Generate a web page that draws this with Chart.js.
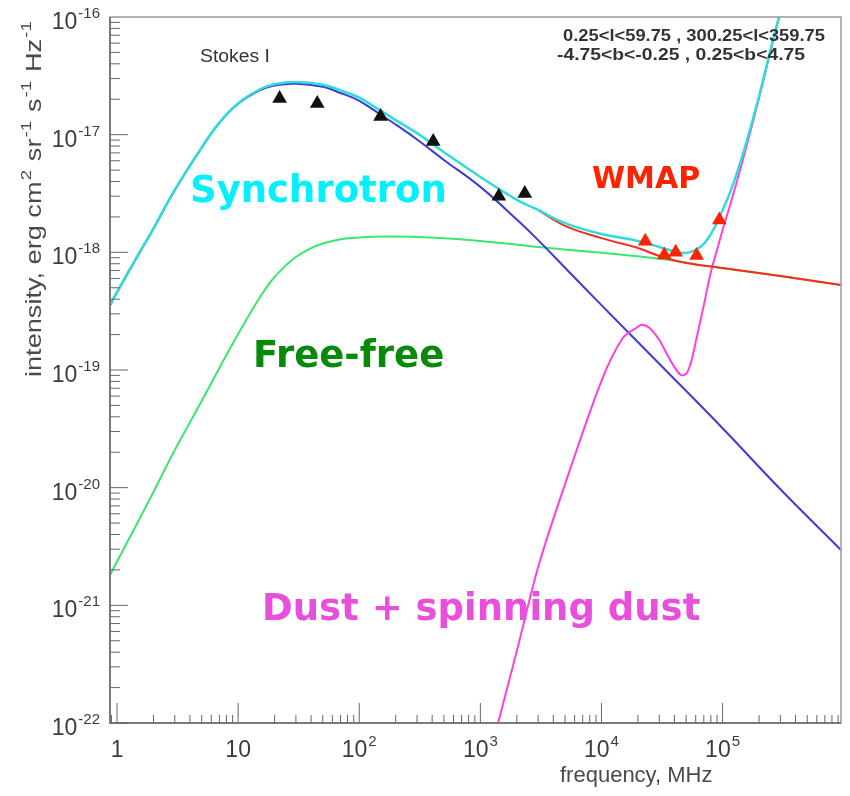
<!DOCTYPE html>
<html>
<head>
<meta charset="utf-8">
<script src="https://cdn.jsdelivr.net/npm/chart.js@4.4.1/dist/chart.umd.min.js"></script>
<style>
  html, body { margin: 0; padding: 0; background: #fff; }
  #wrap { width: 850px; height: 796px; }
</style>
</head>
<body>
<div id="wrap"><canvas id="sed"></canvas></div>
<script>
// ─── Data (frequency in MHz, intensity in erg cm^-2 sr^-1 s^-1 Hz^-1) ───

const radioFreq = [22, 45, 150, 408, 1420, 2326];
const radioI    = [2.03e-17, 1.84e-17, 1.43e-17, 8.75e-18, 2.99e-18, 3.16e-18];

const wmapFreq = [2.3e4, 3.3e4, 4.1e4, 6.1e4, 9.4e4];
const wmapI    = [1.24e-18, 9.5e-19, 1.0e-18, 9.4e-19, 1.88e-18];

// total model (synchrotron + free-free + dust)
const totalFreq = [0.875, 1, 1.5, 2, 3, 5, 7, 10, 15, 20, 30, 50, 70, 100, 150, 200, 300, 500,
  1000, 2000, 3000, 5000, 1e4, 2e4, 3e4, 4e4, 5e4, 6e4, 7e4, 8e4, 9e4, 1e5, 1.2e5, 1.5e5, 2e5, 2.5e5, 3e5];
const totalI = [3.56e-19, 4.6e-19, 9.6e-19, 1.6e-18, 3.4e-18, 7.8e-18, 1.27e-17, 1.85e-17, 2.42e-17,
  2.68e-17, 2.80e-17, 2.66e-17, 2.38e-17, 2.06e-17, 1.60e-17, 1.33e-17, 1.03e-17, 7.1e-18,
  4.37e-18, 2.79e-18, 2.29e-18, 1.77e-18, 1.43e-18, 1.25e-18, 1.11e-18, 1.02e-18, 9.86e-19, 1.05e-18,
  1.18e-18, 1.43e-18, 1.8e-18, 2.29e-18, 3.6e-18, 7.3e-18, 2.12e-17, 5.37e-17, 1.11e-16];

const syncFreq = [0.875, 1, 1.5, 2, 3, 5, 7, 10, 15, 20, 30, 50, 70, 100, 150, 200, 300, 500,
  1000, 2000, 3000, 5000, 1e4, 3e4, 1e5, 3e5, 9.5e5];
const syncI = [3.54e-19, 4.58e-19, 9.55e-19, 1.59e-18, 3.38e-18, 7.75e-18, 1.26e-17, 1.83e-17, 2.38e-17,
  2.62e-17, 2.71e-17, 2.55e-17, 2.26e-17, 1.94e-17, 1.48e-17, 1.22e-17, 9.1e-18, 6.1e-18,
  3.6e-18, 1.9e-18, 1.27e-18, 7.4e-19, 3.56e-19, 1.13e-19, 3.2e-20, 9.7e-21, 2.95e-21];

const ffFreq = [0.875, 1, 1.5, 2, 3, 5, 7, 10, 15, 20, 30, 50, 100, 300, 1000, 3000, 1e4, 3e4, 1e5, 3e5, 9.5e5];
const ffI = [1.81e-21, 2.36e-21, 5.21e-21, 9.19e-21, 2.09e-20, 5.45e-20, 1.04e-19, 2.02e-19, 4.09e-19,
  6.17e-19, 9.12e-19, 1.19e-18, 1.34e-18, 1.35e-18, 1.25e-18, 1.11e-18, 9.9e-19, 8.8e-19, 7.34e-19,
  6.3e-19, 5.27e-19];

// synchrotron + free-free fit over the WMAP band
const fitFreq = [3000, 5000, 1e4, 2e4, 3e4, 5e4, 1e5, 3e5, 9.5e5];
const fitI = [2.28e-18, 1.68e-18, 1.32e-18, 1.09e-18, 9.3e-19, 8.1e-19, 7.36e-19, 6.3e-19, 5.27e-19];

const dustFreq = [1400, 2000, 3000, 5000, 1e4, 1.5e4, 2e4, 2.15e4, 2.5e4, 3e4, 3.5e4, 4e4, 4.5e4, 5e4,
  5.5e4, 6e4, 7e4, 8e4, 9e4, 1e5, 1.2e5, 1.5e5, 2e5, 2.5e5, 3e5];
const dustI = [1.0e-22, 4.09e-22, 2.12e-21, 1.07e-20, 8.1e-20, 1.87e-19, 2.33e-19, 2.42e-19, 2.28e-19,
  1.80e-19, 1.34e-19, 1.06e-19, 9.1e-20, 9.25e-20, 1.17e-19, 1.73e-19, 3.56e-19, 6.8e-19, 1.05e-18,
  1.55e-18, 2.9e-18, 6.6e-18, 2.05e-17, 5.3e-17, 1.1e-16];

const xTickVals = [1, 10, 100, 1e3, 1e4, 1e5];
const xTickBase = ['1', '10', '10', '10', '10', '10'];
const xTickExp  = ['', '', '2', '3', '4', '5'];
const yTickVals = [1e-22, 1e-21, 1e-20, 1e-19, 1e-18, 1e-17, 1e-16];
const yTickExp  = ['-22', '-21', '-20', '-19', '-18', '-17', '-16'];

// ─── Helpers ─────────────────────────────────────────────────────────

const SANS = '"Liberation Sans", Arial, sans-serif';
const BOLD_LABEL = 'bold 37px "DejaVu Sans", Verdana, sans-serif';

function pts(freq, vals) {
  return freq.map((f, i) => ({ x: f, y: vals[i] }));
}

function curve(label, freq, vals, color, width, tension = 0.4) {
  return {
    label, data: pts(freq, vals), showLine: true,
    borderColor: color, backgroundColor: color, borderWidth: width,
    pointRadius: 0, pointHoverRadius: 0, fill: false,
    tension,
  };
}

function markers(label, freq, vals, color) {
  return {
    label, data: pts(freq, vals), showLine: false,
    pointStyle: 'triangle', pointRadius: 8.5, pointHoverRadius: 8.5,
    backgroundColor: color, borderColor: color, borderWidth: 0,
  };
}

// "10" with a raised exponent
function drawPow(ctx, base, exp, x, y, align) {
  ctx.font = '23px ' + SANS;
  const wb = ctx.measureText(base).width;
  ctx.font = '15px ' + SANS;
  const we = exp ? ctx.measureText(exp).width + 1 : 0;
  const w = wb + we;
  const x0 = align === 'right' ? x - w : align === 'center' ? x - w / 2 : x;
  ctx.textAlign = 'left';
  ctx.textBaseline = 'alphabetic';
  ctx.font = '23px ' + SANS;
  ctx.fillText(base, x0, y);
  if (exp) {
    ctx.font = '15px ' + SANS;
    ctx.fillText(exp, x0 + wb + 1, y - 11);
  }
}

// text run with superscripts; parts = [text, isSup]
function richWidth(ctx, parts, size, supSize) {
  let w = 0;
  for (const [t, sup] of parts) {
    ctx.font = (sup ? supSize : size) + 'px ' + SANS;
    w += ctx.measureText(t).width + (sup ? 2 : 0);
  }
  return w;
}

function drawRich(ctx, parts, x, y, size, supSize) {
  let cx = x;
  ctx.textAlign = 'left';
  ctx.textBaseline = 'alphabetic';
  for (const [t, sup] of parts) {
    ctx.font = (sup ? supSize : size) + 'px ' + SANS;
    if (sup) cx += 1;
    ctx.fillText(t, cx, sup ? y - 10 : y);
    cx += ctx.measureText(t).width + (sup ? 1 : 0);
  }
}

// text squeezed or stretched to a given width
function fitText(ctx, text, x, y, width) {
  const w = ctx.measureText(text).width;
  ctx.save();
  ctx.translate(x, y);
  ctx.scale(width / w, 1);
  ctx.fillText(text, 0, 0);
  ctx.restore();
}

const yTitleParts = [
  ['intensity, erg cm', false], ['2', true], [' sr', false], ['-1', true],
  [' s', false], ['-1', true], [' Hz', false], ['-1', true],
];

const notes = [
  { text: 'Synchrotron', x: 190, y: 202, font: BOLD_LABEL, color: '#05f0ff' },
  { text: 'Free-free', x: 253, y: 367, font: BOLD_LABEL, color: '#078a07' },
  { text: 'WMAP', x: 592, y: 188, font: 'bold 30px "DejaVu Sans", Verdana, sans-serif', color: '#ff2200' },
  { text: 'Dust + spinning dust', x: 262, y: 620, font: BOLD_LABEL, color: '#e84fdc' },
];

// ─── Frame, ticks and text ───────────────────────────────────────────

const rootStyle = {
  id: 'rootStyle',
  afterDraw(chart) {
    const ctx = chart.ctx;
    const a = chart.chartArea;
    const sx = chart.scales.x;
    const sy = chart.scales.y;

    ctx.save();
    // frame
    ctx.lineWidth = 1.5;
    ctx.strokeStyle = '#9a9a9a';
    ctx.strokeRect(a.left, a.top, a.right - a.left, a.bottom - a.top);
    ctx.strokeStyle = '#6a6a6a';
    ctx.beginPath();
    ctx.moveTo(a.left, a.top);
    ctx.lineTo(a.left, a.bottom);
    ctx.lineTo(a.right, a.bottom);
    ctx.stroke();

    // ticks, drawn inward
    ctx.lineWidth = 1;
    ctx.strokeStyle = '#666';
    ctx.beginPath();
    for (let e = -22; e < -16; e++) {
      for (let k = 1; k <= 9; k++) {
        const py = sy.getPixelForValue(k * Math.pow(10, e));
        const len = k === 1 ? 18 : 10;
        ctx.moveTo(a.left, py);
        ctx.lineTo(a.left + len, py);
      }
    }
    for (let e = -1; e <= 5; e++) {
      for (let k = 1; k <= 9; k++) {
        const v = k * Math.pow(10, e);
        if (v < sx.min || v > sx.max) continue;
        const px = sx.getPixelForValue(v);
        const len = k === 1 ? 20 : 8;
        ctx.moveTo(px, a.bottom);
        ctx.lineTo(px, a.bottom - len);
      }
    }
    ctx.stroke();

    // tick labels
    ctx.fillStyle = '#3c3c3c';
    yTickVals.forEach((v, i) => {
      drawPow(ctx, '10', yTickExp[i], a.left - 10, sy.getPixelForValue(v) + 12, 'right');
    });
    xTickVals.forEach((v, i) => {
      drawPow(ctx, xTickBase[i], xTickExp[i], sx.getPixelForValue(v), a.bottom + 34, 'center');
    });

    // axis titles
    ctx.fillStyle = '#4a4a4a';
    ctx.font = '22px ' + SANS;
    ctx.textAlign = 'left';
    ctx.fillText('frequency, MHz', 560, 782);

    const titleLen = 357;
    const w = richWidth(ctx, yTitleParts, 22, 15);
    ctx.save();
    ctx.translate(41, 20);
    ctx.rotate(-Math.PI / 2);
    ctx.scale(titleLen / w, 1);
    drawRich(ctx, yTitleParts, -w, 0, 22, 15);
    ctx.restore();

    // plot annotations
    ctx.fillStyle = '#333';
    ctx.font = '18px ' + SANS;
    fitText(ctx, 'Stokes I', 200, 62, 70);
    ctx.font = 'bold 16px ' + SANS;
    fitText(ctx, '0.25<l<59.75 , 300.25<l<359.75', 563, 41, 262);
    fitText(ctx, '-4.75<b<-0.25 , 0.25<b<4.75', 557, 60, 248);

    for (const n of notes) {
      ctx.font = n.font;
      ctx.fillStyle = n.color;
      ctx.fillText(n.text, n.x, n.y);
    }
    ctx.restore();
  },
};

// ─── Chart ───────────────────────────────────────────────────────────

new Chart(document.getElementById('sed'), {
  type: 'scatter',
  data: {
    datasets: [
      markers('WMAP', wmapFreq, wmapI, '#ff2200'),
      markers('Radio surveys', radioFreq, radioI, '#111111'),
      curve('Total', totalFreq, totalI, '#2fdcdc', 2.5),
      curve('Sync + free-free', fitFreq, fitI, '#ff2a1a', 2),
      curve('Dust', dustFreq, dustI, '#ff3fe0', 2, 0.3),
      curve('Synchrotron', syncFreq, syncI, '#3c3cd6', 2),
      curve('Free-free', ffFreq, ffI, '#38e870', 2),
    ],
  },
  options: {
    responsive: true,
    maintainAspectRatio: false,
    animation: false,
    events: [],
    layout: { padding: { left: 0, top: 17, right: 9, bottom: 0 } },
    plugins: {
      legend: { display: false },
      tooltip: { enabled: false },
    },
    scales: {
      x: {
        type: 'logarithmic', position: 'bottom', min: 0.875, max: 9.5e5,
        grid: { display: false }, border: { display: false },
        ticks: { display: false },
        afterFit(scale) { scale.height = 73; },
      },
      y: {
        type: 'logarithmic', position: 'left', min: 1e-22, max: 1e-16,
        grid: { display: false }, border: { display: false },
        ticks: { display: false },
        afterFit(scale) { scale.width = 110; },
      },
    },
  },
  plugins: [rootStyle],
});
</script>
</body>
</html>
